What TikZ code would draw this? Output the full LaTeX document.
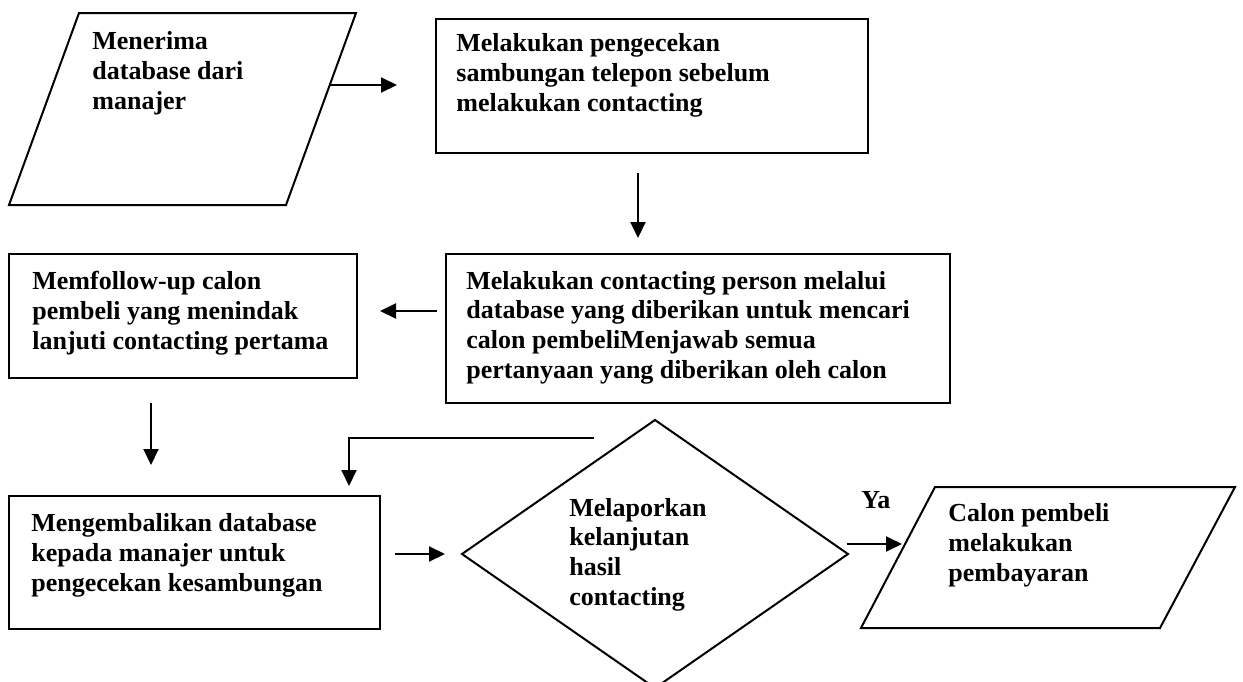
\documentclass[tikz,border=0pt]{standalone}
\usepackage{fontspec}
\setmainfont{Liberation Serif}
\usetikzlibrary{arrows.meta,shapes.geometric}
\begin{document}
\begin{tikzpicture}[x=0.5pt,y=-0.5pt,
  box/.style={draw=black, line width=1pt, inner sep=0pt, outer sep=0pt, anchor=north west},
  shapeline/.style={draw=black, line width=1pt, line join=miter},
  txt/.style={anchor=base west, align=left, inner sep=0pt, font=\fontsize{13}{14.8}\selectfont\bfseries},
  arr/.style={line width=1pt, -{Triangle[length=8pt,width=7.5pt]}},
]
\useasboundingbox (0,0) rectangle (1243,681);

% parallelogram 1
\coordinate (p1a) at (79,13);
\coordinate (p1b) at (356,13);
\coordinate (p1c) at (286,205);
\coordinate (p1d) at (9,205);
\draw[shapeline] (p1a) -- (p1b) -- (p1c) -- (p1d) -- cycle;
\node[txt] (t1) at (92,109) {Menerima\\database dari\\manajer};

% box 2
\node[box, minimum width=216pt, minimum height=67pt] (b2) at (436,19) {};
\node[txt] (t2) at (456,111) {Melakukan pengecekan\\sambungan telepon sebelum\\melakukan contacting};

% box 3
\node[box, minimum width=252pt, minimum height=74.5pt] (b3) at (446,254) {};
\node[txt] (t3) at (466,378) {Melakukan contacting person melalui\\database yang diberikan untuk mencari\\calon pembeliMenjawab semua\\pertanyaan yang diberikan oleh calon};

% box 4
\node[box, minimum width=174pt, minimum height=62pt] (b4) at (9,254) {};
\node[txt] (t4) at (32,349) {Memfollow-up calon\\pembeli yang menindak\\lanjuti contacting pertama};

% box 5
\node[box, minimum width=185.5pt, minimum height=66.5pt] (b5) at (9,496) {};
\node[txt] (t5) at (31,591) {Mengembalikan database\\kepada manajer untuk\\pengecekan kesambungan};

% diamond
\node[diamond, draw=black, line width=1pt, inner sep=0pt, outer sep=0pt,
      minimum width=193pt, minimum height=134pt] (d) at (655,554) {};
\node[txt] (t6) at (569,605) {Melaporkan\\kelanjutan\\hasil\\contacting};

% parallelogram 2
\coordinate (p2a) at (935,487);
\coordinate (p2b) at (1235,487);
\coordinate (p2c) at (1160,628);
\coordinate (p2d) at (861,628);
\draw[shapeline] (p2a) -- (p2b) -- (p2c) -- (p2d) -- cycle;
\node[txt] (t7) at (948,581) {Calon pembeli\\melakukan\\pembayaran};

\node[txt] (ya) at (861,508) {Ya};

% connectors
\coordinate (a1s) at (330,85);  \coordinate (a1e) at (397,85);
\coordinate (a2s) at (638,173); \coordinate (a2e) at (638,238);
\coordinate (a3s) at (437,311); \coordinate (a3e) at (380,311);
\coordinate (a4s) at (151,403); \coordinate (a4e) at (151,465);
\coordinate (a5s) at (594,438); \coordinate (a5m) at (349,438); \coordinate (a5e) at (349,486);
\coordinate (a6s) at (395,554); \coordinate (a6e) at (445,554);
\coordinate (a7s) at (847,544); \coordinate (a7e) at (902,544);

\draw[arr] (a1s) -- (a1e);
\draw[arr] (a2s) -- (a2e);
\draw[arr] (a3s) -- (a3e);
\draw[arr] (a4s) -- (a4e);
\draw[arr] (a5s) -- (a5m) -- (a5e);
\draw[arr] (a6s) -- (a6e);
\draw[arr] (a7s) -- (a7e);
\end{tikzpicture}
\end{document}
